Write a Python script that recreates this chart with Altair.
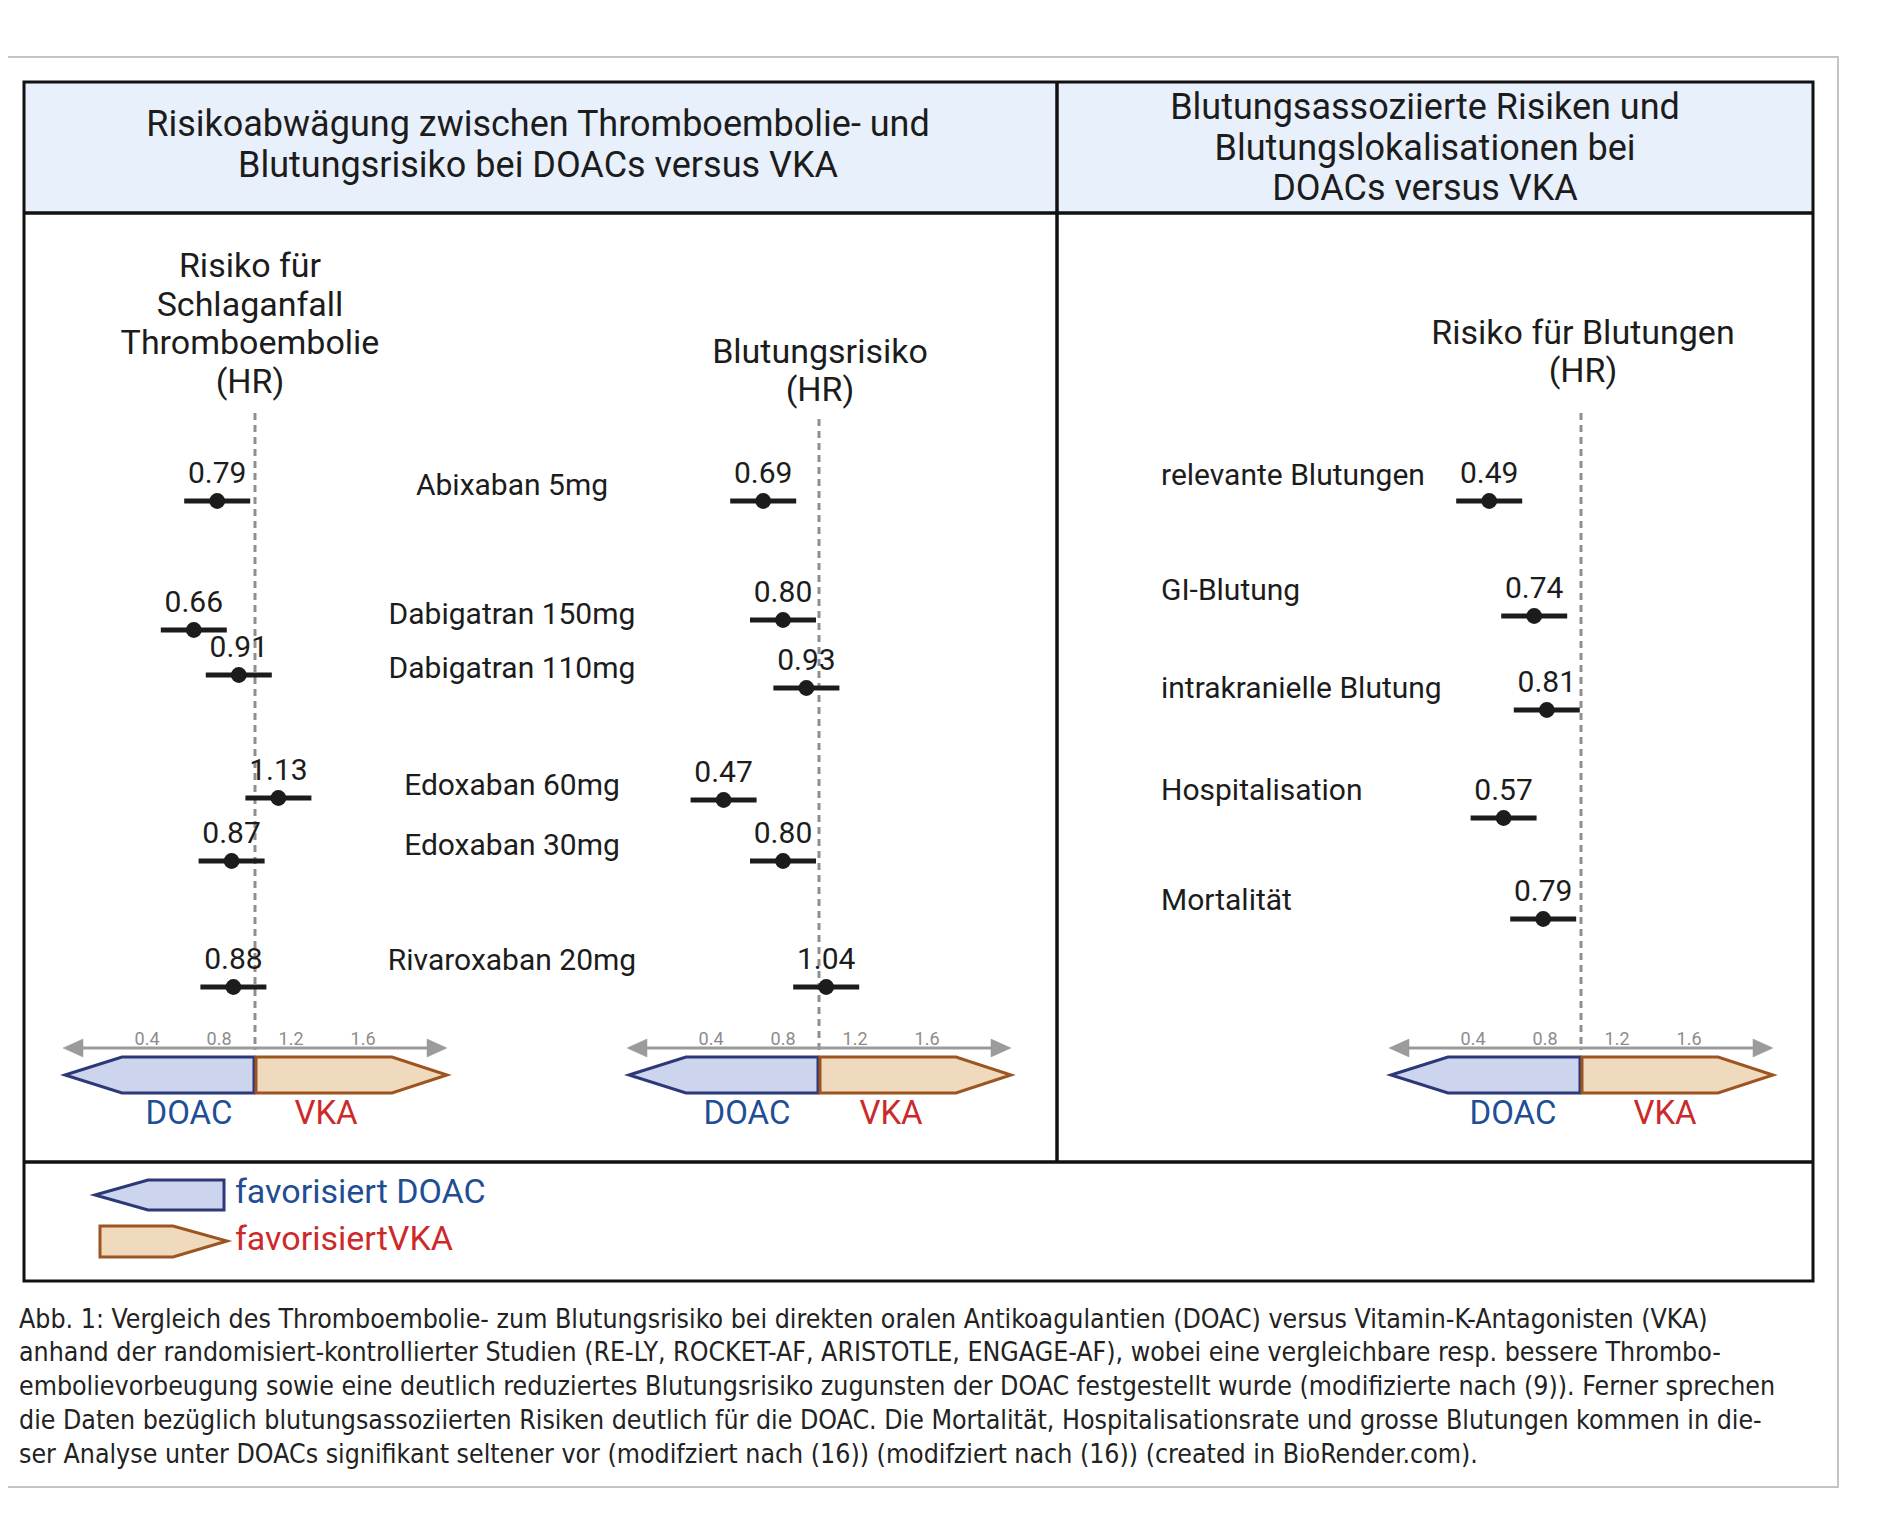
import altair as alt
import pandas as pd

# ---------------- data ----------------
drugs = ["Abixaban 5mg", "Dabigatran 150mg", "Dabigatran 110mg",
         "Edoxaban 60mg", "Edoxaban 30mg", "Rivaroxaban 20mg"]
stroke_hr = [0.79, 0.66, 0.91, 1.13, 0.87, 0.88]
bleed_hr = [0.69, 0.80, 0.93, 0.47, 0.80, 1.04]
outcomes = ["relevante Blutungen", "GI-Blutung", "intrakranielle Blutung",
            "Hospitalisation", "Mortalität"]
outcome_hr = [0.49, 0.74, 0.81, 0.57, 0.79]
axis_ticks = [0.4, 0.8, 1.2, 1.6]
reference_hr = [1.0]

header_left = ["Risikoabwägung zwischen Thromboembolie- und",
               "Blutungsrisiko bei DOACs versus VKA"]
header_right = ["Blutungsassoziierte Risiken und", "Blutungslokalisationen bei",
                "DOACs versus VKA"]
title_p1 = ["Risiko für", "Schlaganfall", "Thromboembolie", "(HR)"]
title_p2 = ["Blutungsrisiko", "(HR)"]
title_p3 = ["Risiko für Blutungen", "(HR)"]
legend_texts = ["favorisiert DOAC", "favorisiertVKA"]
caption = [
    "Abb. 1: Vergleich des Thromboembolie- zum Blutungsrisiko bei direkten oralen Antikoagulantien (DOAC) versus Vitamin-K-Antagonisten (VKA)",
    "anhand der randomisiert-kontrollierter Studien (RE-LY, ROCKET-AF, ARISTOTLE, ENGAGE-AF), wobei eine vergleichbare resp. bessere Thrombo-",
    "embolievorbeugung sowie eine deutlich reduziertes Blutungsrisiko zugunsten der DOAC festgestellt wurde (modifizierte nach (9)). Ferner sprechen",
    "die Daten bezüglich blutungsassoziierten Risiken deutlich für die DOAC. Die Mortalität, Hospitalisationsrate und grosse Blutungen kommen in die-",
    "ser Analyse unter DOACs signifikant seltener vor (modifziert nach (16)) (modifziert nach (16)) (created in BioRender.com).",
]

# ---------------- layout (page pixel positions) ----------------
W, H, M = 1872, 1508, 8
PX = 180                      # pixels per HR unit
centers = [255, 819, 1581]    # x of HR = 1 in each panel
rows_p1 = [501, 630, 675, 798, 861, 987]
rows_p2 = [501, 620, 688, 800, 861, 987]
drug_label_y = [486, 615, 669, 786, 846, 961]
rows_p3 = [501, 616, 710, 818, 919]
outcome_label_y = [476, 591, 689, 791, 901]
TICK_Y = 1040
FONT = "Roboto"
CAPFONT = "'Liberation Sans Narrow', 'DejaVu Sans Condensed', 'Liberation Sans'"
INK = "#1c1c1c"
BLUE_TXT, RED_TXT = "#1f4e94", "#cc2a2a"
DOAC_FILL, DOAC_STROKE = "#cdd5ee", "#2c3878"
VKA_FILL, VKA_STROKE = "#f0dabd", "#9c5520"
GRAY = "#9b9b9b"


def cx(f="x"):
    return alt.X(f"{f}:Q", scale=alt.Scale(domain=[M, M + W], range=[0, W], nice=False, zero=False), axis=None)


def cy(f="y"):
    return alt.Y(f"{f}:Q", scale=alt.Scale(domain=[M, M + H], range=[0, H], nice=False, zero=False), axis=None)


def hx(center, f="hr"):
    return alt.X(f"{f}:Q", scale=alt.Scale(domain=[0, 2], range=[center - M - PX, center - M + PX],
                                           nice=False, zero=False), axis=None)


layers = []

# outer frame
layers.append(alt.Chart(pd.DataFrame([dict(x=1, x2=1838, y=57, y2=1487)])).mark_rect(
    fill="white", stroke="#c4c4c4", strokeWidth=2).encode(x=cx(), x2="x2:Q", y=cy(), y2="y2:Q"))
# header band
layers.append(alt.Chart(pd.DataFrame([dict(x=24, x2=1813, y=82, y2=213)])).mark_rect(
    fill="#e8f0fb").encode(x=cx(), x2="x2:Q", y=cy(), y2="y2:Q"))
# black box
layers.append(alt.Chart(pd.DataFrame([dict(x=24, x2=1813, y=82, y2=1281)])).mark_rect(
    fillOpacity=0, stroke="#111", strokeWidth=3).encode(x=cx(), x2="x2:Q", y=cy(), y2="y2:Q"))
# inner lines
lines = pd.DataFrame([
    dict(x=24, x2=1813, y=213, y2=213),
    dict(x=1057, x2=1057, y=82, y2=1162),
    dict(x=24, x2=1813, y=1162, y2=1162),
])
layers.append(alt.Chart(lines).mark_rule(color="#111", strokeWidth=3.5).encode(
    x=cx(), x2="x2:Q", y=cy(), y2="y2:Q"))

# dashed reference lines at HR = 1 (panel scales)
for c, top in zip(centers, [413, 419, 413]):
    df = pd.DataFrame({"hr": reference_hr, "y": [top], "y2": [1050]})
    layers.append(alt.Chart(df).mark_rule(color="#8f8f8f", strokeWidth=3, strokeDash=[7, 5]).encode(
        x=hx(c), y=cy(), y2="y2:Q"))

# gray double arrow lines
arr = pd.DataFrame([dict(x=c - 176, x2=c + 176, y=1048) for c in centers])
layers.append(alt.Chart(arr).mark_rule(color=GRAY, strokeWidth=3).encode(x=cx(), x2="x2:Q", y=cy()))

# polygons (arrow heads, favour arrows, legend arrows)
poly_rows = []


def poly(pid, pts, fill, stroke, sw):
    for (x, y, y2) in pts:
        poly_rows.append(dict(pid=pid, x=x, y=y, y2=y2, fill=fill, stroke=stroke, sw=sw))


for i, c in enumerate(centers):
    poly(f"hl{i}", [(c - 192, 1048, 1048), (c - 172, 1039, 1057)], GRAY, GRAY, 0.5)
    poly(f"hr{i}", [(c + 172, 1039, 1057), (c + 192, 1048, 1048)], GRAY, GRAY, 0.5)
    poly(f"d{i}", [(c - 190, 1075, 1075), (c - 133, 1057, 1093), (c - 1, 1057, 1093)],
         DOAC_FILL, DOAC_STROKE, 3)
    poly(f"v{i}", [(c + 1, 1057, 1093), (c + 137, 1057, 1093), (c + 192, 1075, 1075)],
         VKA_FILL, VKA_STROKE, 3)
poly("ld", [(95, 1195, 1195), (148, 1180, 1210), (224, 1180, 1210)], DOAC_FILL, DOAC_STROKE, 3)
poly("lv", [(100, 1226, 1257), (173, 1226, 1257), (227, 1241, 1241)], VKA_FILL, VKA_STROKE, 3)
layers.append(alt.Chart(pd.DataFrame(poly_rows)).mark_area(orient="vertical", strokeJoin="miter").encode(
    x=cx(), y=cy(), y2="y2:Q", detail="pid:N",
    fill=alt.Fill("fill:N", scale=None), stroke=alt.Stroke("stroke:N", scale=None),
    strokeWidth=alt.StrokeWidth("sw:Q", scale=None)))


# forest panels
def forest(values, rows, center):
    df = pd.DataFrame({"hr": values, "y": rows})
    base = alt.Chart(df)
    return [
        base.mark_rule(color=INK, strokeWidth=5, xOffset=-33, x2Offset=33).encode(
            x=hx(center), x2="hr:Q", y=cy()),
        base.mark_circle(color=INK, size=250, opacity=1).encode(x=hx(center), y=cy()),
        base.mark_text(font=FONT, fontSize=30, color=INK, dy=-27, baseline="middle").encode(
            x=hx(center), y=cy(), text=alt.Text("hr:Q", format=".2f")),
    ]


layers += forest(stroke_hr, rows_p1, centers[0])
layers += forest(bleed_hr, rows_p2, centers[1])
layers += forest(outcome_hr, rows_p3, centers[2])

# axis tick labels (panel scales)
for c in centers:
    df = pd.DataFrame({"t": axis_ticks, "y": [TICK_Y] * len(axis_ticks)})
    layers.append(alt.Chart(df).mark_text(font=FONT, fontSize=18, color="#8c8c8c", baseline="middle").encode(
        x=hx(c, "t"), y=cy(), text=alt.Text("t:Q", format=".1f")))

# centred texts
ct = []
for t, y in zip(header_left, [125, 166]):
    ct.append(dict(x=538, y=y, text=t, size=36, color=INK))
for t, y in zip(header_right, [108, 149, 189]):
    ct.append(dict(x=1425, y=y, text=t, size=36, color=INK))
for t, y in zip(title_p1, [267, 306, 344, 383]):
    ct.append(dict(x=250, y=y, text=t, size=34, color=INK))
for t, y in zip(title_p2, [353, 391]):
    ct.append(dict(x=820, y=y, text=t, size=34, color=INK))
for t, y in zip(title_p3, [334, 372]):
    ct.append(dict(x=1583, y=y, text=t, size=34, color=INK))
for t, y in zip(drugs, drug_label_y):
    ct.append(dict(x=512, y=y, text=t, size=30, color=INK))
for dx_, vx_ in [(189, 326), (747, 891), (1513, 1665)]:
    ct.append(dict(x=dx_, y=1114, text="DOAC", size=33, color=BLUE_TXT))
    ct.append(dict(x=vx_, y=1114, text="VKA", size=33, color=RED_TXT))
layers.append(alt.Chart(pd.DataFrame(ct)).mark_text(font=FONT, baseline="middle", align="center").encode(
    x=cx(), y=cy(), text="text:N", size=alt.Size("size:Q", scale=None), color=alt.Color("color:N", scale=None)))

# left-aligned texts
lt = []
for t, y in zip(outcomes, outcome_label_y):
    lt.append(dict(x=1161, y=y, text=t, size=30, color=INK))
lt.append(dict(x=235, y=1193, text=legend_texts[0], size=34, color=BLUE_TXT))
lt.append(dict(x=235, y=1240, text=legend_texts[1], size=34, color=RED_TXT))
layers.append(alt.Chart(pd.DataFrame(lt)).mark_text(font=FONT, baseline="middle", align="left").encode(
    x=cx(), y=cy(), text="text:N", size=alt.Size("size:Q", scale=None), color=alt.Color("color:N", scale=None)))

# caption
cap = pd.DataFrame({"x": [19] * len(caption), "y": [1320, 1353, 1387, 1421, 1455], "text": caption})
layers.append(alt.Chart(cap).mark_text(font=CAPFONT, fontSize=26.5, color="#222", baseline="middle", align="left").encode(
    x=cx(), y=cy(), text="text:N"))

chart = alt.layer(*layers).properties(
    width=W, height=H, autosize=alt.AutoSizeParams(type="none"), padding=0,
    background="white",
).resolve_scale(x="independent", y="independent").configure_view(stroke=None)

chart.save("out.html", embed_options={"renderer": "svg", "actions": False})
